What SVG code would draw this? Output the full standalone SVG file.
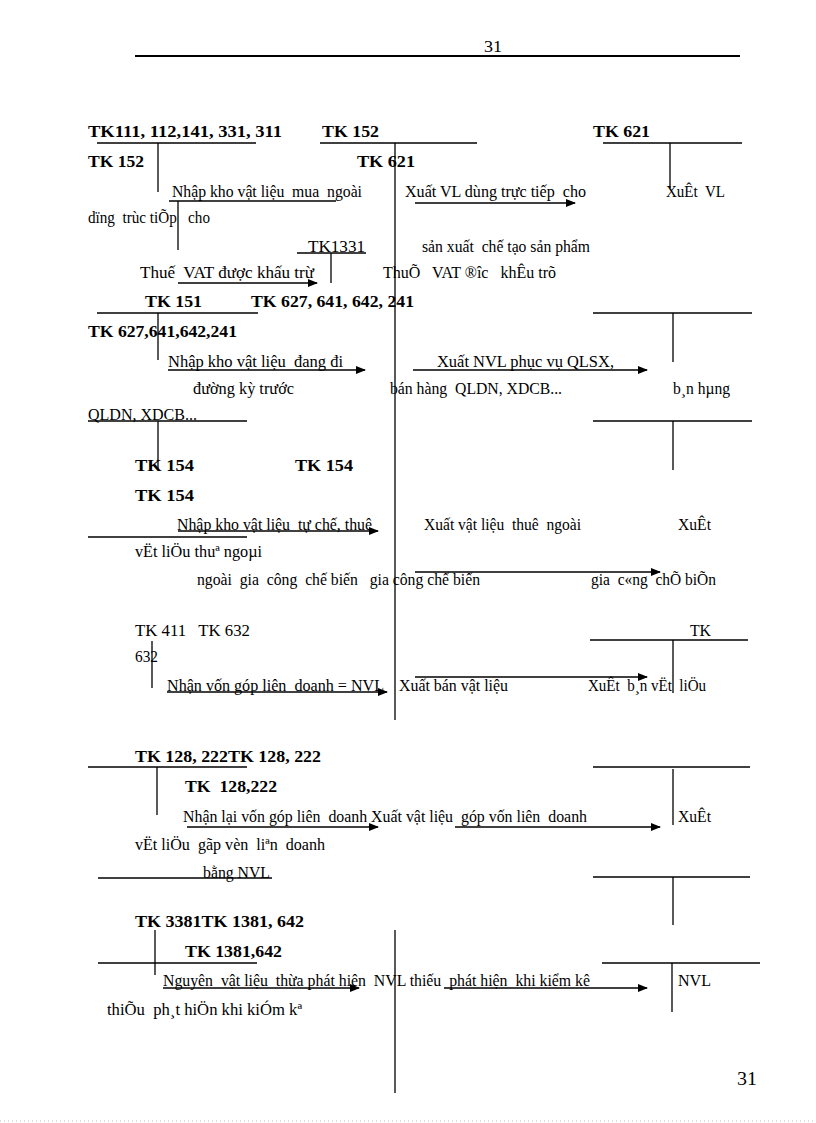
<svg xmlns="http://www.w3.org/2000/svg" width="816" height="1123" viewBox="0 0 816 1123">
<defs>
<style>
text{font-family:"Liberation Serif","Times New Roman",serif;font-size:16px;fill:#000;white-space:pre}
.b{font-weight:bold}
.ln{stroke:#000;stroke-width:1.3;fill:none}
.ar{stroke:#000;stroke-width:1.3;fill:none;marker-end:url(#ah)}
</style>
<marker id="ah" viewBox="0 0 10 8" refX="9" refY="4" markerWidth="10" markerHeight="8" markerUnits="userSpaceOnUse" orient="auto"><path d="M0,0L10,4L0,8z" fill="#000"/></marker>
</defs>
<rect width="816" height="1123" fill="#fff"/>
<g id="header">
<text x="484" y="52" textLength="18" lengthAdjust="spacingAndGlyphs">31</text>
<line x1="135" y1="56" x2="740" y2="56" stroke="#000" stroke-width="2"/>
</g>
<g id="tk111"><line class="ln" x1="97" y1="143" x2="256" y2="143"/><line class="ln" x1="158" y1="143" x2="158" y2="192"/>
<text class="b" x="88" y="137" textLength="194" lengthAdjust="spacingAndGlyphs">TK111, 112,141, 331, 311</text></g>
<g id="tk152"><line class="ln" x1="320" y1="143" x2="477" y2="143"/><line class="ln" x1="395" y1="143" x2="395" y2="720"/>
<text class="b" x="322" y="137" textLength="57" lengthAdjust="spacingAndGlyphs">TK 152</text></g>
<g id="tk621"><line class="ln" x1="603" y1="143" x2="742" y2="143"/><line class="ln" x1="670" y1="143" x2="670" y2="188"/>
<text class="b" x="593" y="137" textLength="57" lengthAdjust="spacingAndGlyphs">TK 621</text></g>
<g id="row2">
<text class="b" x="88" y="167" textLength="56" lengthAdjust="spacingAndGlyphs">TK 152</text>
<text class="b" x="357" y="167" textLength="58" lengthAdjust="spacingAndGlyphs">TK 621</text>
</g>
<g id="nhap-mua"><line class="ln" x1="169" y1="201" x2="336" y2="201"/><line class="ln" x1="178" y1="201" x2="178" y2="250"/></g>
<g id="tk1331"><line class="ln" x1="297" y1="253" x2="366" y2="253"/><line class="ln" x1="331" y1="253" x2="331" y2="283"/>
<text x="308" y="252" textLength="57" lengthAdjust="spacingAndGlyphs">TK1331</text></g>
<g id="tk151"><line class="ln" x1="97" y1="313" x2="258" y2="313"/><line class="ln" x1="158" y1="313" x2="158" y2="360"/>
<text class="b" x="145" y="307" textLength="57" lengthAdjust="spacingAndGlyphs">TK 151</text>
<text class="b" x="251" y="307" textLength="163" lengthAdjust="spacingAndGlyphs">TK 627, 641, 642, 241</text>
<text class="b" x="88" y="337" textLength="149" lengthAdjust="spacingAndGlyphs">TK 627,641,642,241</text></g>
<g id="tk627r"><line class="ln" x1="593" y1="313" x2="752" y2="313"/><line class="ln" x1="673" y1="313" x2="673" y2="362"/></g>
<g id="tk154l"><line class="ln" x1="88" y1="421" x2="247" y2="421"/><line class="ln" x1="158" y1="421" x2="158" y2="470"/>
<text class="b" x="135" y="471" textLength="59" lengthAdjust="spacingAndGlyphs">TK 154</text>
<text class="b" x="295" y="471" textLength="58" lengthAdjust="spacingAndGlyphs">TK 154</text>
<text class="b" x="135" y="501" textLength="59" lengthAdjust="spacingAndGlyphs">TK 154</text></g>
<g id="tk154r"><line class="ln" x1="593" y1="421" x2="752" y2="421"/><line class="ln" x1="673" y1="421" x2="673" y2="470"/></g>
<g id="tk154b"><line class="ln" x1="88" y1="537" x2="247" y2="537"/></g>
<g id="tk411"><line class="ln" x1="152" y1="641" x2="152" y2="688"/>
<text x="135" y="636" textLength="115" lengthAdjust="spacingAndGlyphs">TK 411   TK 632</text>
<text x="135" y="662" textLength="23" lengthAdjust="spacingAndGlyphs">632</text></g>
<g id="tk632r"><line class="ln" x1="590" y1="640" x2="748" y2="640"/><line class="ln" x1="673" y1="640" x2="673" y2="693"/>
<text x="690" y="636" textLength="21" lengthAdjust="spacingAndGlyphs">TK</text></g>
<g id="tk128l"><line class="ln" x1="88" y1="767" x2="247" y2="767"/><line class="ln" x1="157" y1="767" x2="157" y2="815"/>
<text class="b" x="135" y="762" textLength="186" lengthAdjust="spacingAndGlyphs">TK 128, 222TK 128, 222</text>
<text class="b" x="185" y="792" textLength="92" lengthAdjust="spacingAndGlyphs">TK  128,222</text></g>
<g id="tk128r"><line class="ln" x1="593" y1="767" x2="750" y2="767"/><line class="ln" x1="673" y1="769" x2="673" y2="825"/></g>
<g id="bangnvl"><line class="ln" x1="98" y1="878" x2="272" y2="878"/></g>
<g id="tk1381r0"><line class="ln" x1="593" y1="877" x2="750" y2="877"/><line class="ln" x1="673" y1="877" x2="673" y2="925"/></g>
<g id="tk3381"><line class="ln" x1="98" y1="963" x2="257" y2="963"/><line class="ln" x1="155" y1="930" x2="155" y2="975"/>
<text class="b" x="135" y="927" textLength="169" lengthAdjust="spacingAndGlyphs">TK 3381TK 1381, 642</text>
<text class="b" x="185" y="957" textLength="97" lengthAdjust="spacingAndGlyphs">TK 1381,642</text></g>
<g id="tk1381"><line class="ln" x1="395" y1="930" x2="395" y2="1093"/></g>
<g id="tk1381r"><line class="ln" x1="602" y1="963" x2="760" y2="963"/><line class="ln" x1="672" y1="963" x2="672" y2="1012"/></g>
<g id="connectors">
<line class="ar" x1="415" y1="203" x2="575" y2="203"/>
<line class="ar" x1="178" y1="283" x2="317" y2="283"/>
<line class="ar" x1="168" y1="370" x2="365" y2="370"/>
<line class="ar" x1="413" y1="370" x2="647" y2="370"/>
<line class="ar" x1="178" y1="531" x2="378" y2="531"/>
<line class="ar" x1="415" y1="572" x2="660" y2="572"/>
<line class="ar" x1="167" y1="692" x2="387" y2="692"/>
<line class="ar" x1="415" y1="677" x2="647" y2="677"/>
<line class="ar" x1="187" y1="827" x2="378" y2="827"/>
<line class="ar" x1="455" y1="827" x2="660" y2="827"/>
<line class="ar" x1="163" y1="988" x2="359" y2="988"/>
<line class="ar" x1="444" y1="988" x2="647" y2="988"/>
</g>
<g id="labels">
<text x="172" y="197" textLength="190" lengthAdjust="spacingAndGlyphs">Nhập kho vật liệu  mua  ngoài</text>
<text x="405" y="197" textLength="181" lengthAdjust="spacingAndGlyphs">Xuất VL dùng trực tiếp  cho</text>
<text x="666" y="197" textLength="59" lengthAdjust="spacingAndGlyphs">XuÊt  VL</text>
<text x="88" y="223" textLength="122" lengthAdjust="spacingAndGlyphs">dïng  trùc tiÕp   cho</text>
<text x="422" y="252" textLength="168" lengthAdjust="spacingAndGlyphs">sản xuất  chế tạo sản phẩm</text>
<text x="140" y="278" textLength="174" lengthAdjust="spacingAndGlyphs">Thuế  VAT được khấu trừ</text>
<text x="383" y="278" textLength="173" lengthAdjust="spacingAndGlyphs">ThuÕ   VAT ®îc   khÊu trõ</text>
<text x="168" y="367" textLength="175" lengthAdjust="spacingAndGlyphs">Nhập kho vật liệu  đang đi</text>
<text x="437" y="367" textLength="177" lengthAdjust="spacingAndGlyphs">Xuất NVL phục vụ QLSX,</text>
<text x="193" y="394" textLength="101" lengthAdjust="spacingAndGlyphs">đường kỳ trước</text>
<text x="390" y="394" textLength="172" lengthAdjust="spacingAndGlyphs">bán hàng  QLDN, XDCB...</text>
<text x="673" y="394" textLength="57" lengthAdjust="spacingAndGlyphs">b¸n hµng</text>
<text x="88" y="420" textLength="109" lengthAdjust="spacingAndGlyphs">QLDN, XDCB...</text>
<text x="177" y="530" textLength="195" lengthAdjust="spacingAndGlyphs">Nhập kho vật liệu  tự chế, thuê</text>
<text x="424" y="530" textLength="157" lengthAdjust="spacingAndGlyphs">Xuất vật liệu  thuê  ngoài</text>
<text x="678" y="530" textLength="33" lengthAdjust="spacingAndGlyphs">XuÊt</text>
<text x="135" y="557" textLength="127" lengthAdjust="spacingAndGlyphs">vËt liÖu thuª ngoµi</text>
<text x="197" y="585" textLength="283" lengthAdjust="spacingAndGlyphs">ngoài  gia  công  chế biến   gia công chế biến</text>
<text x="591" y="585" textLength="125" lengthAdjust="spacingAndGlyphs">gia  c«ng  chÕ biÕn</text>
<text x="167" y="691" textLength="217" lengthAdjust="spacingAndGlyphs">Nhận vốn góp liên  doanh = NVL</text>
<text x="399" y="691" textLength="109" lengthAdjust="spacingAndGlyphs">Xuất bán vật liệu</text>
<text x="588" y="691" textLength="118" lengthAdjust="spacingAndGlyphs">XuÊt  b¸n vËt  liÖu</text>
<text x="183" y="822" textLength="404" lengthAdjust="spacingAndGlyphs">Nhận lại vốn góp liên  doanh Xuất vật liệu  góp vốn liên  doanh</text>
<text x="678" y="822" textLength="33" lengthAdjust="spacingAndGlyphs">XuÊt</text>
<text x="135" y="850" textLength="190" lengthAdjust="spacingAndGlyphs">vËt liÖu  gãp vèn  liªn  doanh</text>
<text x="203" y="878" textLength="67" lengthAdjust="spacingAndGlyphs">bằng NVL</text>
<text x="163" y="986" textLength="427" lengthAdjust="spacingAndGlyphs">Nguyên  vật liệu  thừa phát hiện  NVL thiếu  phát hiện  khi kiểm kê</text>
<text x="678" y="986" textLength="33" lengthAdjust="spacingAndGlyphs">NVL</text>
<text x="107" y="1015" textLength="195" lengthAdjust="spacingAndGlyphs">thiÕu  ph¸t hiÖn khi kiÓm kª</text>
</g>
<g id="footer">
<text x="737" y="1085" style="font-size:19px" textLength="20" lengthAdjust="spacingAndGlyphs">31</text>
<line x1="0" y1="1121" x2="816" y2="1121" stroke="#bbb" stroke-width="1" stroke-dasharray="1,3"/>
</g>
</svg>
